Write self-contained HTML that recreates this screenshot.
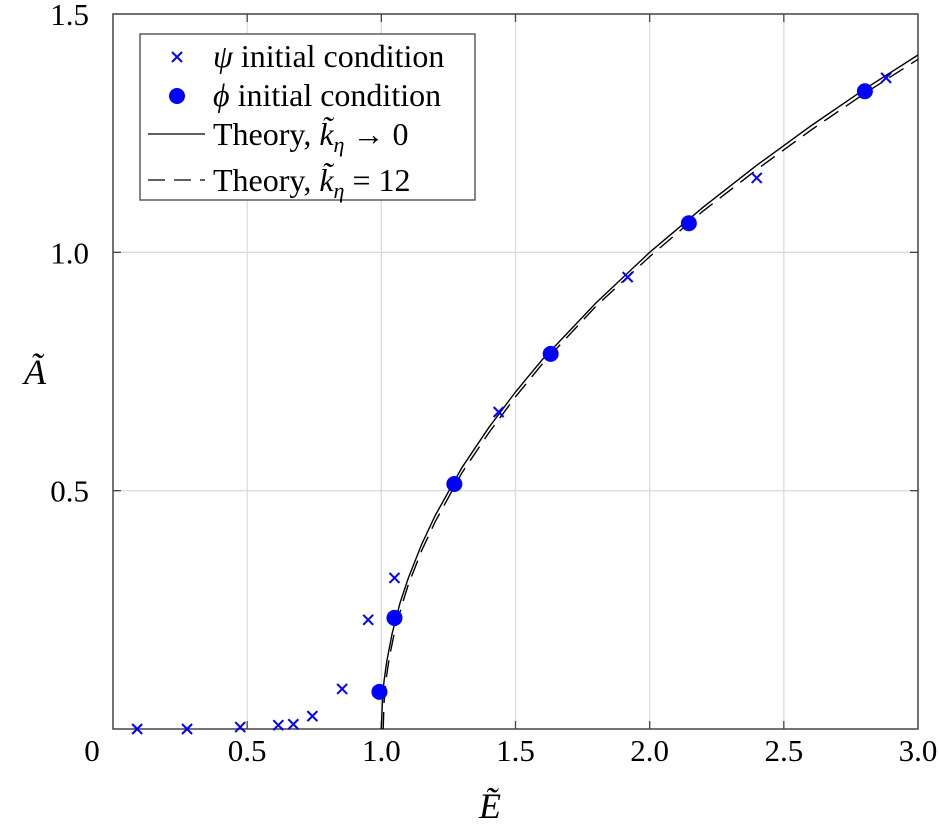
<!DOCTYPE html>
<html><head><meta charset="utf-8"><style>
body{margin:0;background:#fff;}
svg{display:block;font-family:"Liberation Serif","Times New Roman",serif;}
</style></head><body>
<svg id="chart" width="939" height="832" viewBox="0 0 939 832">
<g id="grid"></g>
<g id="axes"></g>
<g id="series"></g>
<text x="35" y="384" font-size="36" font-style="italic" text-anchor="middle">Ã</text>
<text x="490" y="818" font-size="36" font-style="italic" text-anchor="middle">Ẽ</text>
<g>
<rect x="140" y="34" width="335" height="166" fill="#fff" stroke="#444" stroke-width="1.3"/>
<g>
<path d="M172 52 L182 62 M182 52 L172 62" stroke="#0000ff" stroke-width="2"/>
<text x="213" y="67" font-size="32"><tspan font-style="italic">ψ</tspan> initial condition</text></g>
<g>
<circle cx="177" cy="96" r="8" fill="#0000ff"/>
<text x="213" y="106" font-size="32"><tspan font-style="italic">ϕ</tspan> initial condition</text></g>
<g>
<line x1="148" y1="134" x2="205" y2="134" stroke="#000" stroke-width="1.3"/>
<text x="213" y="145" font-size="32">Theory, <tspan font-style="italic">k̃</tspan><tspan font-style="italic" font-size="22" dy="7">η</tspan><tspan dy="-7"> → 0</tspan></text></g>
<g>
<line x1="148" y1="180" x2="205" y2="180" stroke="#000" stroke-width="1.3" stroke-dasharray="17,9"/>
<text x="213" y="191" font-size="32">Theory, <tspan font-style="italic">k̃</tspan><tspan font-style="italic" font-size="22" dy="7">η</tspan><tspan dy="-7"> = 12</tspan></text></g>
</g>
</svg>
<script>
const xTicks=[0,0.5,1.0,1.5,2.0,2.5,3.0];
const xTickLabels=["0","0.5","1.0","1.5","2.0","2.5","3.0"];
const yTicks=[0.5,1.0,1.5];
const yTickLabels=["0.5","1.0","1.5"];
const psiE=[0.09,0.276,0.474,0.616,0.672,0.743,0.854,0.951,1.049,1.437,1.918,2.399,2.881];
const psiA=[0,0,0.004,0.008,0.01,0.027,0.084,0.229,0.317,0.665,0.948,1.156,1.366];
const phiE=[0.993,1.049,1.272,1.631,2.146,2.802];
const phiA=[0.078,0.233,0.514,0.787,1.061,1.338];
const th0E=[1,1.005,1.01,1.02,1.04,1.07,1.1,1.15,1.2,1.3,1.4,1.5,1.6,1.8,2,2.2,2.4,2.6,2.8,3];
const th0A=[0,0.071,0.1,0.141,0.2,0.265,0.316,0.387,0.447,0.548,0.632,0.707,0.775,0.894,1,1.095,1.183,1.265,1.342,1.414];
const th12E=[1.007,1.01,1.015,1.02,1.03,1.05,1.08,1.1,1.15,1.2,1.3,1.4,1.5,1.6,1.8,2,2.2,2.4,2.6,2.8,3];
const th12A=[0,0.055,0.089,0.113,0.151,0.206,0.266,0.302,0.374,0.434,0.537,0.621,0.697,0.766,0.887,0.991,1.087,1.174,1.256,1.333,1.405];

const X0=113,X1=918,Y0=729,Y1=14;
const sx=v=>X0+(v-0)/3*(X1-X0);
const sy=v=>Y0-(v-0)/1.5*(Y0-Y1);
const NS="http://www.w3.org/2000/svg";
function mk(tag,attrs,parent){const e=document.createElementNS(NS,tag);for(const k in attrs)e.setAttribute(k,attrs[k]);parent.appendChild(e);return e;}
const grid=document.getElementById('grid'),axes=document.getElementById('axes'),ser=document.getElementById('series');
xTicks.forEach((t,i)=>{
  const x=sx(t);
  if(t>0&&t<3){const g=mk('line',{x1:x,x2:x,y1:Y1,y2:Y0,stroke:'#dcdcdc','stroke-width':1.3},grid);
  
  
  mk('line',{x1:x,x2:x,y1:Y0,y2:Y0-8,stroke:'#444','stroke-width':1.3},axes);
  mk('line',{x1:x,x2:x,y1:Y1,y2:Y1+8,stroke:'#444','stroke-width':1.3},axes);}
  const tx=mk('text',{x:t===0?x-21:x,y:Y0+32,'font-size':31,'text-anchor':'middle'},axes);
  tx.textContent=xTickLabels[i];
  
  
});
yTicks.forEach((t,i)=>{
  const y=sy(t);
  if(t<1.5){const g=mk('line',{x1:X0,x2:X1,y1:y,y2:y,stroke:'#dcdcdc','stroke-width':1.3},grid);
  
  
  mk('line',{x1:X0,x2:X0+8,y1:y,y2:y,stroke:'#444','stroke-width':1.3},axes);
  mk('line',{x1:X1,x2:X1-8,y1:y,y2:y,stroke:'#444','stroke-width':1.3},axes);}
  const tx=mk('text',{x:X0-24,y:y+11,'font-size':31,'text-anchor':'end'},axes);
  tx.textContent=yTickLabels[i];
  
  
});
const frame=mk('rect',{x:X0,y:Y1,width:X1-X0,height:Y0-Y1,fill:'none',stroke:'#444','stroke-width':1.5},axes);


function line(E,A,dash,name){
  const d=E.map((e,i)=>(i?'L':'M')+sx(e).toFixed(1)+' '+sy(A[i]).toFixed(1)).join(' ');
  const p=mk('path',{d:d,fill:'none',stroke:'#000','stroke-width':1.4},ser);
  if(dash)p.setAttribute('stroke-dasharray','17,9');
  
  
}
line(th0E,th0A,false,'theory-line-k0');
line(th12E,th12A,true,'theory-line-k12');
phiE.forEach((e,i)=>{
  const c=mk('circle',{cx:sx(e),cy:sy(phiA[i]),r:8,fill:'#0000ff'},ser);
  
  
});
psiE.forEach((e,i)=>{
  const x=sx(e),y=sy(psiA[i]);
  const p=mk('path',{d:`M${x-5} ${y-5}L${x+5} ${y+5}M${x+5} ${y-5}L${x-5} ${y+5}`,stroke:'#0000ff','stroke-width':2},ser);
  
  
});
</script>
</body></html>
